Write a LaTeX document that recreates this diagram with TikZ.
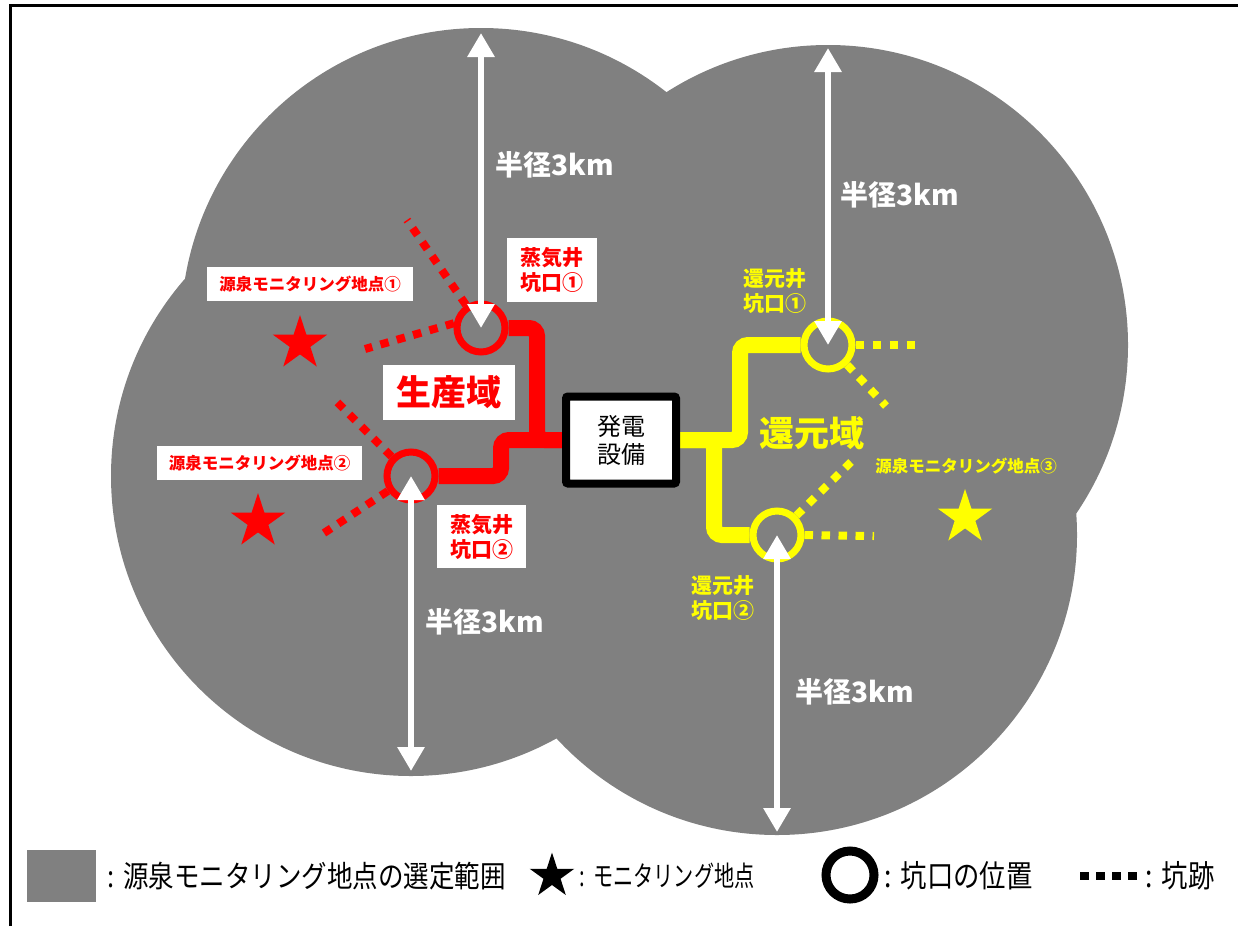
\documentclass[tikz,border=0pt]{standalone}
\usepackage{fontspec}
\setmainfont{Noto Sans CJK JP}
\newfontfamily\legfont[FakeStretch=0.85]{Noto Sans CJK JP}
\newfontfamily\legfontn[FakeStretch=0.72]{Noto Sans CJK JP}
\usetikzlibrary{arrows.meta,shapes.geometric}
\pgfdeclarelayer{bg}
\pgfdeclarelayer{pipes}
\pgfsetlayers{bg,pipes,main}
\definecolor{area}{RGB}{128,128,128}
\definecolor{ylw}{RGB}{255,255,0}
\definecolor{rd}{RGB}{255,0,0}
\newcommand{\fmonlbl}{\bfseries\fontsize{16.5}{18}\selectfont}
\newcommand{\fwelllbl}{\bfseries\fontsize{21}{25}\selectfont}
\newcommand{\fdomlbl}{\bfseries\fontsize{35}{38}\selectfont}
\newcommand{\fradlbl}{\bfseries\fontsize{28}{30}\selectfont}
\newcommand{\fgenlbl}{\fontsize{24}{28}\selectfont}
\begin{document}
\begin{tikzpicture}[x=1pt,y=-1pt,
  wellring/.style={circle,draw=#1,line width=7pt,fill=area,minimum size=48pt,inner sep=0pt},
  pipeline/.style={line width=16pt,draw=#1,rounded corners=8pt},
  trailline/.style={line width=8pt,draw=#1,dash pattern=on 8.5pt off 8.5pt},
  monstar/.style={star,star points=5,star point ratio=2.618,fill=#1,minimum size=57pt,inner sep=0pt},
  radarrow/.style={draw=white,line width=6.5pt,arrows={Triangle[width=26pt,length=24pt]-Triangle[width=26pt,length=24pt]}},
  whitetag/.style={fill=white,inner sep=0pt,align=center},
  plaintag/.style={inner sep=0pt,align=center},
  genbox/.style={draw=black,fill=white,line width=8pt,rounded corners=2pt,minimum width=110pt,minimum height=87pt,inner sep=0pt,align=center,font=\fgenlbl},
  legtext/.style={anchor=west,inner sep=0pt,text=black}
]
\useasboundingbox (0,0) rectangle (1238,926);

% wells and generation plant
\node[wellring=rd] (sw1) at (481,328) {};
\node[wellring=rd] (sw2) at (411,476) {};
\node[wellring=ylw] (rw1) at (828,345) {};
\node[wellring=ylw] (rw2) at (777,535) {};
\node[genbox] (gen) at (621,440) {発電\\設備};

\begin{pgfonlayer}{bg}
  \fill[area] (sw1.center) circle[radius=300pt]
              (sw2.center) circle[radius=300pt]
              (rw1.center) circle[radius=300pt]
              (rw2.center) circle[radius=300pt];
\end{pgfonlayer}

\begin{pgfonlayer}{pipes}
  \draw[pipeline=rd] (sw1.east) -- (537,328) -- (537,440) -- (gen.west);
  \draw[pipeline=rd] (sw2.east) -- (501,476) -- (501,440) -- (gen.west);
  \draw[pipeline=ylw] (gen.east) -- (740,440) -- (740,345) -- (rw1.west);
  \draw[pipeline=ylw] (gen.east) -- (714,440) -- (714,535) -- (rw2.west);
  \coordinate (t1) at (407,220);
  \coordinate (t2) at (365,349);
  \coordinate (t3) at (333,398);
  \coordinate (t4) at (324,533);
  \coordinate (t5) at (921,345);
  \coordinate (t6) at (886,406);
  \coordinate (t7) at (851,462);
  \coordinate (t8) at (874,536);
  \draw[trailline=rd] (sw1.123) -- (t1);
  \draw[trailline=rd] (sw1.170) -- (t2);
  \draw[trailline=rd] (sw2.135) -- (t3);
  \draw[trailline=rd] (sw2.213) -- (t4);
  \draw[trailline=ylw] (rw1.0) -- (t5);
  \draw[trailline=ylw] (rw1.-46) -- (t6);
  \draw[trailline=ylw] (rw2.45) -- (t7);
  \draw[trailline=ylw] (rw2.0) -- (t8);
\end{pgfonlayer}

% monitoring stars
\node[monstar=rd] (st1) at (300,343.5) {};
\node[monstar=rd] (st2) at (258,521.5) {};
\node[monstar=ylw] (st3) at (965,517.5) {};

% radius arrows
\coordinate (a1) at (481,33);
\coordinate (a2) at (411,771);
\coordinate (a3) at (828,48);
\coordinate (a4) at (777,832);
\draw[radarrow] (sw1.center) -- (a1);
\draw[radarrow] (sw2.center) -- (a2);
\draw[radarrow] (rw1.center) -- (a3);
\draw[radarrow] (rw2.center) -- (a4);

% labels
\node[whitetag,text=rd,font=\fmonlbl,minimum width=206pt,minimum height=34pt] (lb1) at (310,284) {源泉モニタリング地点①};
\node[whitetag,text=rd,font=\fmonlbl,minimum width=205pt,minimum height=34pt] (lb2) at (259.5,463) {源泉モニタリング地点②};
\node[plaintag,text=ylw,font=\fmonlbl] (lb3) at (966,466) {源泉モニタリング地点③};
\node[whitetag,text=rd,font=\fwelllbl,minimum width=90pt,minimum height=64pt] (lb4) at (552,270) {蒸気井\\坑口①};
\node[whitetag,text=rd,font=\fwelllbl,minimum width=89pt,minimum height=63pt] (lb5) at (481.5,536.5) {蒸気井\\坑口②};
\node[plaintag,text=ylw,font=\fwelllbl] (lb6) at (775,291) {還元井\\坑口①};
\node[plaintag,text=ylw,font=\fwelllbl] (lb7) at (723,598) {還元井\\坑口②};
\node[whitetag,text=rd,font=\fdomlbl,minimum width=132pt,minimum height=55pt] (lb8) at (449,392.5) {生産域};
\node[plaintag,text=ylw,font=\fdomlbl] (lb9) at (812,433) {還元域};
\node[plaintag,text=white,font=\fradlbl] (r1) at (555,165) {半径3km};
\node[plaintag,text=white,font=\fradlbl] (r2) at (900,195) {半径3km};
\node[plaintag,text=white,font=\fradlbl] (r3) at (485,622) {半径3km};
\node[plaintag,text=white,font=\fradlbl] (r4) at (855,692) {半径3km};

% frame
\draw[line width=3pt] (10,926) -- (10,5) -- (1238,5);

% legend
\node[fill=area,minimum width=69pt,minimum height=52pt,inner sep=0pt] (lg1) at (61.5,876) {};
\node[legtext,font=\legfont\fontsize{30}{32}\selectfont] (lt1) at (107,876) {:\hspace{0.3em}源泉モニタリング地点の選定範囲};
\node[monstar=black,minimum size=47pt] (lg2) at (552,876) {};
\node[legtext,font=\legfontn\fontsize{28}{30}\selectfont] (lt2) at (579,876) {:\hspace{0.3em}モニタリング地点};
\node[wellring=black,fill=white,line width=9pt,minimum size=48pt] (lg3) at (850,875) {};
\node[legtext,font=\legfont\fontsize{31}{34}\selectfont] (lt3) at (884,876) {:\hspace{0.3em}坑口の位置};
\coordinate (lg4a) at (1080,876);
\coordinate (lg4b) at (1139,876);
\draw[line width=8pt,dash pattern=on 9pt off 7pt] (lg4a) -- (lg4b);
\node[legtext,font=\legfont\fontsize{31}{34}\selectfont] (lt4) at (1145,876) {:\hspace{0.3em}坑跡};
\end{tikzpicture}
\end{document}
